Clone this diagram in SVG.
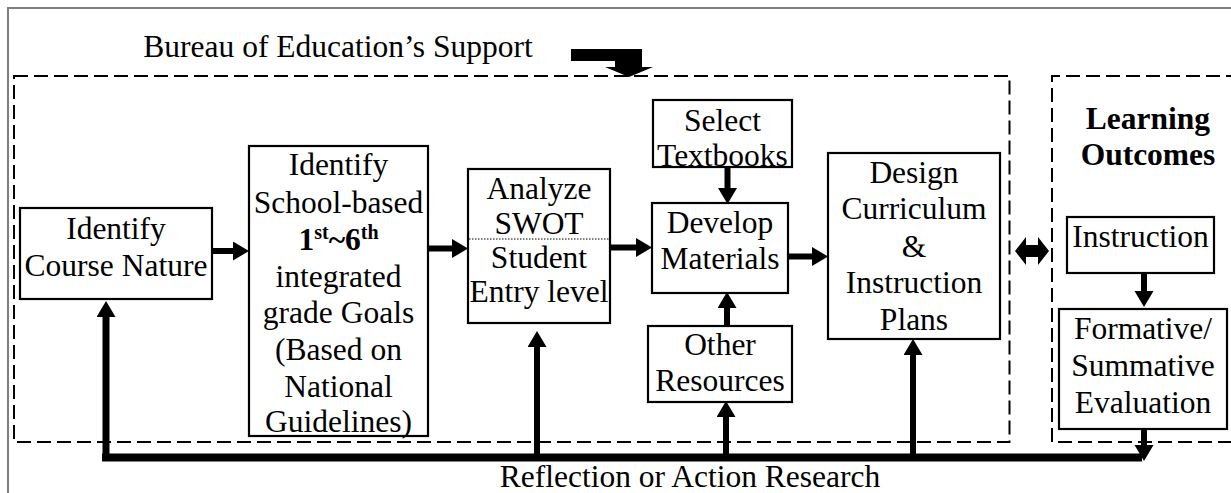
<svg xmlns="http://www.w3.org/2000/svg" width="1231" height="493" viewBox="0 0 1231 493">
  <style>
    text { font-family: "Liberation Serif", "Times New Roman", serif; font-size: 31.5px; fill: #000; text-anchor: middle; }
    .bold { font-weight: bold; }
    .sup { font-size: 20px; font-weight: bold; }
    .box { fill: #fff; stroke: #000; stroke-width: 2.2; }
    .zone { fill: none; stroke: #000; stroke-width: 2; stroke-dasharray: 14 6; }
    .link { fill: none; stroke: #000; stroke-width: 6; marker-end: url(#head); }
    .bar { fill: none; stroke: #000; stroke-width: 8; }
    .solid { fill: #000; stroke: none; }
  </style>
  <defs>
    <marker id="head" markerUnits="userSpaceOnUse" markerWidth="16" markerHeight="20" refX="0" refY="9.5" orient="auto">
      <path d="M0,0 L16,9.5 L0,19 Z" fill="#000"/>
    </marker>
  </defs>

  <rect width="1231" height="493" fill="#fff"/>
  <!-- outer frame -->
  <rect x="8" y="8" width="1240" height="500" fill="none" stroke="#7f7f7f" stroke-width="2"/>

  <!-- dashed zones -->
  <rect class="zone" x="14" y="76" width="995.5" height="366"/>
  <path class="zone" d="M1240,76 H1052 V442 H1240"/>

  <!-- header -->
  <g id="bureau">
    <text x="338" y="57">Bureau of Education’s Support</text>
    <polygon class="solid" points="571,49 642,49 642,67 653,67 629,77 605,67 615,67 615,61 571,61"/>
  </g>

  <g id="course-nature">
    <rect class="box" x="20" y="208" width="192" height="91"/>
    <text x="116" y="239">Identify</text>
    <text x="116" y="276">Course Nature</text>
  </g>

  <g id="grade-goals">
    <rect class="box" x="249" y="146" width="179" height="290"/>
    <text x="338.5" y="175">Identify</text>
    <text x="338.5" y="213">School-based</text>
    <text class="bold" x="338.5" y="250">1<tspan class="sup" dy="-11">st</tspan><tspan dy="11">~6</tspan><tspan class="sup" dy="-11">th</tspan></text>
    <text x="338.5" y="287">integrated</text>
    <text x="338.5" y="323">grade Goals</text>
    <text x="338.5" y="360">(Based on</text>
    <text x="338.5" y="397">National</text>
    <text x="338.5" y="432">Guidelines)</text>
  </g>

  <g id="swot">
    <rect class="box" x="468" y="169" width="142" height="154"/>
    <line x1="469" y1="239" x2="609" y2="239" stroke="#000" stroke-width="1.2" stroke-dasharray="1.5 1.5"/>
    <text x="539" y="199">Analyze</text>
    <text x="539" y="234">SWOT</text>
    <text x="539" y="268">Student</text>
    <text x="539" y="302">Entry level</text>
  </g>

  <g id="textbooks">
    <rect class="box" x="653" y="100" width="139" height="67"/>
    <text x="722.5" y="131">Select</text>
    <text x="722.5" y="166">Textbooks</text>
  </g>

  <g id="materials">
    <rect class="box" x="652" y="203" width="136" height="90"/>
    <text x="720" y="233">Develop</text>
    <text x="720" y="269">Materials</text>
  </g>

  <g id="resources">
    <rect class="box" x="648" y="326" width="144" height="76"/>
    <text x="720" y="355">Other</text>
    <text x="720" y="391">Resources</text>
  </g>

  <g id="curriculum">
    <rect class="box" x="828" y="153" width="172" height="186"/>
    <text x="914" y="183">Design</text>
    <text x="914" y="219">Curriculum</text>
    <text x="914" y="257">&amp;</text>
    <text x="914" y="293">Instruction</text>
    <text x="914" y="330">Plans</text>
  </g>

  <g id="outcomes-title">
    <text class="bold" x="1148" y="129">Learning</text>
    <text class="bold" x="1148" y="165">Outcomes</text>
  </g>

  <g id="instruction">
    <rect class="box" x="1067" y="217" width="147" height="56"/>
    <text x="1140.5" y="247">Instruction</text>
  </g>

  <g id="evaluation">
    <rect class="box" x="1059" y="309" width="168" height="120"/>
    <text x="1143" y="339">Formative/</text>
    <text x="1143" y="376">Summative</text>
    <text x="1143" y="413">Evaluation</text>
  </g>

  <g id="reflection-label">
    <text x="690" y="487">Reflection or Action Research</text>
  </g>

  <!-- connectors -->
  <g id="connectors">
    <line class="link" x1="212" y1="251" x2="233" y2="251"/>
    <line class="link" x1="428" y1="248.5" x2="452" y2="248.5"/>
    <line class="link" x1="610" y1="247.5" x2="636" y2="247.5"/>
    <line class="link" x1="788" y1="256.5" x2="812" y2="256.5"/>
    <line class="link" x1="727.5" y1="167" x2="727.5" y2="188"/>
    <line class="link" x1="727" y1="326" x2="727" y2="308"/>
    <line class="link" x1="1144" y1="273" x2="1144" y2="291"/>

    <!-- feedback loop along the bottom -->
    <path class="bar" d="M102,457.5 H1142"/>
    <line class="link" x1="106" y1="461" x2="106" y2="317" style="stroke-width:7"/>
    <line class="link" x1="537" y1="454" x2="537" y2="347"/>
    <line class="link" x1="726" y1="454" x2="726" y2="417"/>
    <line class="link" x1="913" y1="454" x2="913" y2="355"/>
    <line class="link" x1="1144" y1="429" x2="1144" y2="445"/>

    <!-- two-way link between the zones -->
    <polygon class="solid" points="1015,251 1026,237 1026,245 1038,245 1038,237 1049,251 1038,265 1038,257 1026,257 1026,265"/>
  </g>
</svg>
